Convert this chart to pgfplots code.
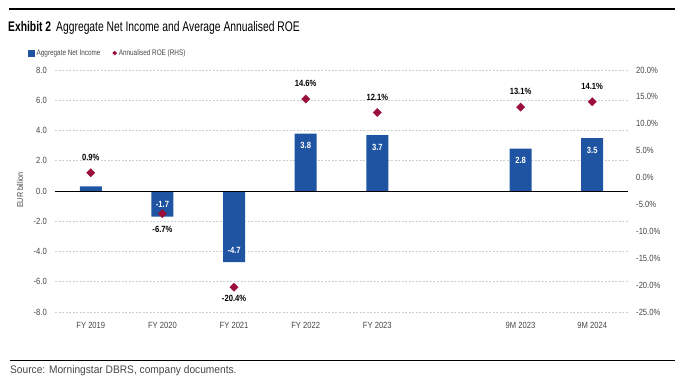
\documentclass[border=0pt]{standalone}
\usepackage{fontspec}
\setmainfont{Liberation Sans}[FakeStretch=0.85]
\newfontfamily\titlefont{Liberation Sans}[FakeStretch=0.74]
\newfontfamily\legfont{Liberation Sans}[FakeStretch=0.8]
\newfontfamily\srcfont{Liberation Sans}[FakeStretch=0.93]
\usepackage{pgfplots}
\pgfplotsset{compat=1.18}
\definecolor{barblue}{RGB}{31,84,163}
\definecolor{roered}{RGB}{155,16,59}
\definecolor{tickgray}{RGB}{70,70,70}
\definecolor{gridgray}{RGB}{205,205,205}
\begin{document}
\begin{tikzpicture}[x=1bp,y=1bp]
\useasboundingbox (0,0) rectangle (675,-379);
\draw[line width=1.2bp] (9,-9) -- (675,-9);
\node[anchor=base west, inner sep=0] at (8,-31) {\titlefont\fontsize{14}{16}\selectfont\textbf{Exhibit 2}\hspace{5bp}Aggregate Net Income and Average Annualised ROE};
\draw[line width=1bp] (10,-360) -- (675,-360);
\node[anchor=base west, inner sep=0, text=tickgray] at (10,-373) {\srcfont\fontsize{11}{12}\selectfont Source: Morningstar DBRS, company documents.};
\node[rotate=90, text=tickgray, inner sep=0] at (20,-190) {\fontsize{8.5}{10}\selectfont EUR billion};

\begin{axis}[
  at={(55bp,-312bp)}, anchor=south west, scale only axis,
  width=573bp, height=242bp,
  xmin=-0.5, xmax=7.5, ymin=-8, ymax=8,
  xtick={0,1,2,3,4,6,7},
  xticklabels={FY 2019,FY 2020,FY 2021,FY 2022,FY 2023,9M 2023,9M 2024},
  ytick={-8,-6,-4,-2,0,2,4,6,8},
  yticklabel={\pgfmathprintnumber[fixed,fixed zerofill,precision=1]{\tick}},
  /pgf/number format/assume math mode=true,
  axis line style={draw=none},
  major tick length=0pt,
  ymajorgrids,
  grid style={gridgray, dash pattern=on 2bp off 1.5bp, line width=0.6bp},
  tick label style={text=tickgray, font=\fontsize{9}{10}\selectfont},
  yticklabel style={inner sep=0pt, anchor=east, xshift=-8bp},
  xticklabel style={inner sep=0pt, anchor=north, yshift=-10bp},
  clip=false,
]
\addplot[ybar, bar width=22bp, fill=barblue, draw=none] coordinates {
  (0,0.3) (1,-1.7) (2,-4.7) (3,3.8) (4,3.7) (6,2.8) (7,3.5)};
\draw[black, line width=1bp] (axis cs:-0.5,0) -- (axis cs:7.5,0);
\addplot[draw=none, point meta=explicit symbolic, nodes near coords,
  nodes near coords style={anchor=center, yshift=-12bp, text=white, inner sep=0pt,
    font=\fontsize{9}{10}\selectfont\bfseries}] coordinates {
  (3,3.8)[3.8] (4,3.7)[3.7] (6,2.8)[2.8] (7,3.5)[3.5]};
\addplot[draw=none, point meta=explicit symbolic, nodes near coords,
  nodes near coords style={anchor=center, yshift=12bp, text=white, inner sep=0pt,
    font=\fontsize{9}{10}\selectfont\bfseries}] coordinates {
  (1,-1.7)[-1.7] (2,-4.7)[-4.7]};
\end{axis}

\begin{axis}[
  at={(55bp,-312bp)}, anchor=south west, scale only axis,
  width=573bp, height=242bp,
  xmin=-0.5, xmax=7.5, ymin=-25, ymax=20,
  hide x axis,
  ytick={-25,-20,-15,-10,-5,0,5,10,15,20},
  yticklabel pos=right,
  yticklabel={\pgfmathprintnumber[fixed,fixed zerofill,precision=1]{\tick}\%},
  /pgf/number format/assume math mode=true,
  axis line style={draw=none},
  major tick length=0pt,
  tick label style={text=tickgray, font=\fontsize{9}{10}\selectfont},
  yticklabel style={inner sep=0pt, anchor=west, xshift=8bp},
  clip=false,
  legend columns=2,
  legend style={draw=none, fill=none, at={(rel axis cs:-0.047,1.07)}, anchor=west,
    font=\legfont\fontsize{8}{9}\selectfont, text=tickgray, inner sep=0pt,
    /tikz/every even column/.append style={column sep=10bp}},
  legend cell align=left,
]
\addlegendimage{legend image code/.code={\fill[barblue] (0bp,-3bp) rectangle (6bp,3bp);}}
\addlegendentry{Aggregate Net Income}
\addplot[only marks, mark=square*, mark size=2.9bp,
  mark options={rotate=45, fill=roered, draw=roered},
  legend image code/.code={\fill[roered] (3bp,0) -- (5bp,2bp) -- (7bp,0) -- (5bp,-2bp) -- cycle;}]
  coordinates {(0,0.9) (1,-6.7) (2,-20.4) (3,14.6) (4,12.1) (6,13.1) (7,14.1)};
\addlegendentry{Annualised ROE (RHS)}
\addplot[forget plot, draw=none, point meta=explicit symbolic, nodes near coords,
  nodes near coords style={anchor=center, yshift=15.5bp, text=black, inner sep=0pt,
    font=\fontsize{9}{10}\selectfont\bfseries}] coordinates {
  (0,0.9)[0.9\%] (3,14.6)[14.6\%] (4,12.1)[12.1\%] (6,13.1)[13.1\%] (7,14.1)[14.1\%]};
\addplot[forget plot, draw=none, point meta=explicit symbolic, nodes near coords,
  nodes near coords style={anchor=center, yshift=-15.5bp, text=black, inner sep=0pt,
    font=\fontsize{9}{10}\selectfont\bfseries}] coordinates {
  (1,-6.7)[-6.7\%]};
\addplot[forget plot, draw=none, point meta=explicit symbolic, nodes near coords,
  nodes near coords style={anchor=center, yshift=-11bp, text=black, inner sep=0pt,
    font=\fontsize{9}{10}\selectfont\bfseries}] coordinates {
  (2,-20.4)[-20.4\%]};
\end{axis}
\end{tikzpicture}
\end{document}
